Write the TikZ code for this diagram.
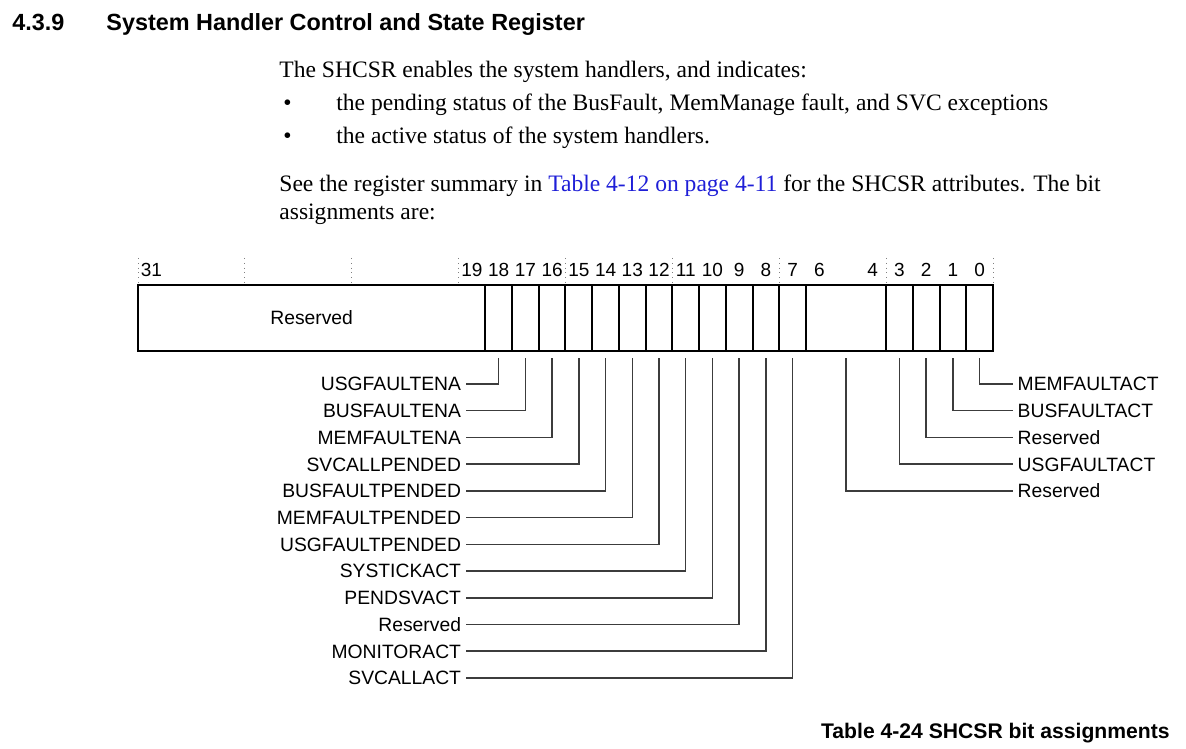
\documentclass[tikz,border=0pt]{standalone}
\usepackage{fontspec}
\setmainfont{Liberation Serif}
\setsansfont{Liberation Sans}
\usepackage{xcolor}

\definecolor{linkBlue}{RGB}{30,30,215}
\definecolor{leadGray}{RGB}{60,60,60}

\tikzset{
  bitcell/.style={draw, line width=1pt, minimum height=33pt, inner sep=0pt, outer sep=0pt},
  fieldlbl/.style={font=\sffamily\fontsize{9.65}{11}\selectfont, inner sep=0pt,
    text height=6.9pt, text depth=0pt, outer xsep=2.5pt},
  bitnum/.style={font=\sffamily\fontsize{9.5}{11}\selectfont, inner sep=0pt, anchor=base},
  leader/.style={draw=leadGray, line width=0.75pt},
  dottick/.style={draw=gray, dotted, line width=0.4pt},
  bodytxt/.style={font=\fontsize{11.78}{14}\selectfont, inner sep=0pt, anchor=base west},
  headtxt/.style={font=\sffamily\bfseries\fontsize{11.7}{14}\selectfont, inner sep=0pt, anchor=base west},
}

\begin{document}
\begin{tikzpicture}[x=0.5pt, y=-0.5pt]
\useasboundingbox (0,0) rectangle (1186,748);

% heading and text
\node[headtxt] (secnum) at (12,30.5) {4.3.9};
\node[headtxt] (sectitle) at (106,30.5) {System Handler Control and State Register};
\node[bodytxt] (intro) at (279,78) {The SHCSR enables the system handlers, and indicates:};
\node[bodytxt] (bulA) at (283,111) {\textbullet};
\node[bodytxt] (itemA) at (336,111) {the pending status of the BusFault, MemManage fault, and SVC exceptions};
\node[bodytxt] (bulB) at (283,144) {\textbullet};
\node[bodytxt] (itemB) at (336,144) {the active status of the system handlers.};
\node[bodytxt] (seeref) at (279,192) {See the register summary in \textcolor{linkBlue}{Table 4-12 on page 4-11} for the SHCSR attributes. The bit};
\node[bodytxt] (seerefB) at (279,220) {assignments are:};

% dotted bit ticks
\foreach \k in {0,...,8}
  \draw[dottick] ({993-4*\k*26.72},258) -- ({993-4*\k*26.72},285);

% bit numbers
\foreach \b in {31,19,18,17,16,15,14,13,12,11,10,9,8,7,6,4,3,2,1,0}
  \node[bitnum] (num\b) at ({993-(\b+0.5)*26.72},276.7) {\b};

% register fields
\node[bitcell, minimum width=173.68pt, font=\sffamily\fontsize{9.65}{11}\selectfont] (rsv) at (311.64,318) {Reserved};
\foreach \b in {18,17,16,15,14,13,12,11,10,9,8,7,3,2,1,0}
  \node[bitcell, minimum width=13.36pt] (b\b) at ({993-(\b+0.5)*26.72},318) {};
\node[bitcell, minimum width=40.08pt] (b64) at (846.04,318) {};

% left field names
\foreach \b/\nm [count=\i from 0] in {18/USGFAULTENA, 17/BUSFAULTENA, 16/MEMFAULTENA,
    15/SVCALLPENDED, 14/BUSFAULTPENDED, 13/MEMFAULTPENDED, 12/USGFAULTPENDED,
    11/SYSTICKACT, 10/PENDSVACT, 9/Reserved, 8/MONITORACT, 7/SVCALLACT} {
  \node[fieldlbl, anchor=east] (n\b) at (466,{384+26.72*\i}) {\nm};
  \draw[leader] ([yshift=-3.5pt]b\b.south) |- (n\b.east);
}

% right field names
\foreach \b/\nm/\r in {0/MEMFAULTACT/0, 1/BUSFAULTACT/1, 2/Reserved/2, 3/USGFAULTACT/3, 64/Reserved/4} {
  \node[fieldlbl, anchor=west] (n\b) at (1012.7,{384+26.72*\r}) {\nm};
  \draw[leader] ([yshift=-3.5pt]b\b.south) |- (n\b.west);
}

\node[font=\sffamily\bfseries\fontsize{10.57}{12}\selectfont, inner sep=0pt, anchor=base east] (caption) at (1170,738.5) {Table 4-24 SHCSR bit assignments};
\end{tikzpicture}
\end{document}
